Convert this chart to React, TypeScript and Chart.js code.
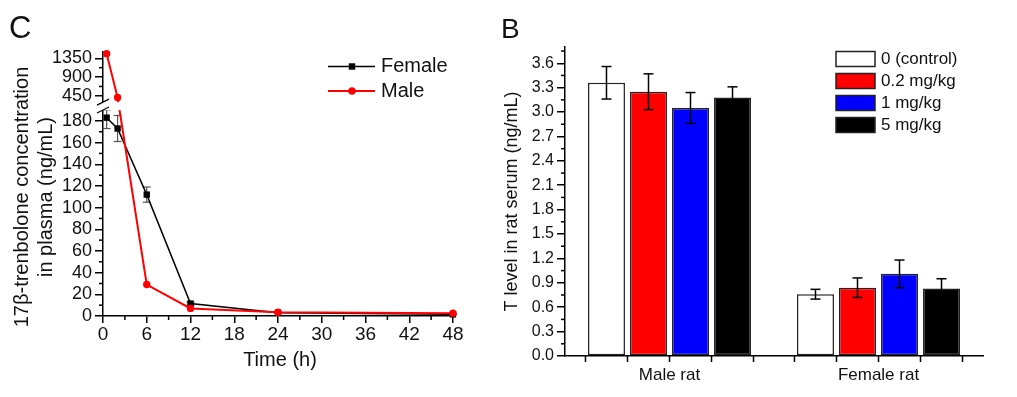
import React, { useEffect, useRef } from 'react';
import { Chart, registerables, LinearScale } from 'chart.js';

const FONT = "'Liberation Sans', Arial, Helvetica, sans-serif";
const INK = '#111111';

// ---------- Panel C: 17β-trenbolone concentration in plasma ----------
const timeHours = [0.5, 2, 6, 12, 24, 48];
const femaleConc = [183, 173, 112, 11.5, 3, 1.5];
const femaleSd = [10, 12, 7, 1.5, 0.5, 0.3];
const maleConc = [1460, 410, 29, 7, 3.5, 2.5];
const timeTicks = [0, 6, 12, 18, 24, 30, 36, 42, 48];
const timeMinorTicks = [3, 9, 15, 21, 27, 33, 39, 45];
const concTicks = [0, 20, 40, 60, 80, 100, 120, 140, 160, 180, 450, 900, 1350];
const concMinorTicks = [10, 30, 50, 70, 90, 110, 130, 150, 170, 675, 1125];
const lowerSegment = [0, 190];
const upperSegment = [300, 1500];
const seriesNamesC = ['Female', 'Male'];

// ---------- Panel B: T level in rat serum ----------
const ratGroups = ['Male rat', 'Female rat'];
const doseLabels = ['0 (control)', '0.2 mg/kg', '1 mg/kg', '5 mg/kg'];
const doseColors = ['#ffffff', '#ff0000', '#0000ff', '#000000'];
const tControl = [3.36, 0.76];
const tControlSd = [0.2, 0.06];
const tDose02 = [3.25, 0.84];
const tDose02Sd = [0.22, 0.12];
const tDose1 = [3.05, 1.01];
const tDose1Sd = [0.19, 0.17];
const tDose5 = [3.18, 0.83];
const tDose5Sd = [0.13, 0.12];
const tLevelTicks = [0, 0.3, 0.6, 0.9, 1.2, 1.5, 1.8, 2.1, 2.4, 2.7, 3.0, 3.3, 3.6];
const tLevelMinorTicks = [0.15, 0.45, 0.75, 1.05, 1.35, 1.65, 1.95, 2.25, 2.55, 2.85, 3.15, 3.45, 3.75];

const doseValues = [tControl, tDose02, tDose1, tDose5];
const doseSds = [tControlSd, tDose02Sd, tDose1Sd, tDose5Sd];

// layout constants for broken axis
const LOWER_SHARE = 0.78;
const GAP_SHARE = 0.03;
const CATEGORY_PCT = 0.804;
const BAR_PCT = 0.88;

class BrokenLinearScale extends LinearScale {
  static id = 'brokenLinear';
  buildTicks() {
    return concTicks.map((v) => ({ value: v }));
  }
  getPixelForValue(value: any) {
    if (value === null || value === undefined || isNaN(value)) return NaN;
    const [l0, l1] = lowerSegment;
    const [u0, u1] = upperSegment;
    let d: number;
    if (value <= l1) d = ((value - l0) / (l1 - l0)) * LOWER_SHARE;
    else if (value >= u0)
      d = LOWER_SHARE + GAP_SHARE + ((value - u0) / (u1 - u0)) * (1 - LOWER_SHARE - GAP_SHARE);
    else d = LOWER_SHARE + ((value - l1) / (u0 - l1)) * GAP_SHARE;
    return (this as any).getPixelForDecimal(d);
  }
  getValueForPixel(pixel: number) {
    const d = (this as any).getDecimalForPixel(pixel);
    const [l0, l1] = lowerSegment;
    const [u0, u1] = upperSegment;
    if (d <= LOWER_SHARE) return l0 + (d / LOWER_SHARE) * (l1 - l0);
    if (d >= LOWER_SHARE + GAP_SHARE)
      return u0 + ((d - LOWER_SHARE - GAP_SHARE) / (1 - LOWER_SHARE - GAP_SHARE)) * (u1 - u0);
    return l1 + ((d - LOWER_SHARE) / GAP_SHARE) * (u0 - l1);
  }
}

Chart.register(...registerables);
Chart.register(BrokenLinearScale as any);
Chart.defaults.font.family = FONT;
Chart.defaults.color = INK;

function line(ctx: CanvasRenderingContext2D, x1: number, y1: number, x2: number, y2: number) {
  ctx.beginPath();
  ctx.moveTo(x1, y1);
  ctx.lineTo(x2, y2);
  ctx.stroke();
}

const panelCPlugin = {
  id: 'panelCDecor',
  beforeDatasetsDraw(chart: any) {
    const ctx = chart.ctx as CanvasRenderingContext2D;
    const xs = chart.scales.x;
    const ys = chart.scales.y;
    ctx.save();
    ctx.strokeStyle = '#555';
    ctx.lineWidth = 1.2;
    timeHours.forEach((t, i) => {
      const x = xs.getPixelForValue(t);
      const yt = ys.getPixelForValue(femaleConc[i] + femaleSd[i]);
      const yb = ys.getPixelForValue(femaleConc[i] - femaleSd[i]);
      line(ctx, x, yt, x, yb);
      line(ctx, x - 4, yt, x + 4, yt);
      line(ctx, x - 4, yb, x + 4, yb);
    });
    ctx.restore();
  },
  afterDraw(chart: any) {
    const ctx = chart.ctx as CanvasRenderingContext2D;
    const area = chart.chartArea;
    const xs = chart.scales.x;
    const ys = chart.scales.y;
    ctx.save();
    // axis break
    const gapTop = ys.getPixelForValue(upperSegment[0]);
    const gapBot = ys.getPixelForValue(lowerSegment[1]);
    ctx.fillStyle = '#ffffff';
    ctx.fillRect(area.left - 2, gapTop, area.right - area.left + 4, gapBot - gapTop);
    ctx.strokeStyle = '#000';
    ctx.lineWidth = 1.2;
    line(ctx, area.left - 6, gapTop + 3, area.left + 6, gapTop - 3);
    line(ctx, area.left - 6, gapBot + 3, area.left + 6, gapBot - 3);
    // minor ticks
    ctx.lineWidth = 1.5;
    concMinorTicks.forEach((v) => {
      const y = ys.getPixelForValue(v);
      line(ctx, area.left - 4, y, area.left, y);
    });
    timeMinorTicks.forEach((v) => {
      const x = xs.getPixelForValue(v);
      line(ctx, x, area.bottom, x, area.bottom + 4);
    });
    // legend
    const ds = chart.data.datasets;
    const rows = [66.5, 91];
    ds.forEach((d: any, i: number) => {
      const y = rows[i];
      ctx.strokeStyle = d.borderColor;
      ctx.fillStyle = d.borderColor;
      ctx.lineWidth = d.borderWidth;
      line(ctx, 328, y, 375, y);
      if (d.pointStyle === 'rect') {
        ctx.fillRect(352 - 3.2, y - 3.2, 6.4, 6.4);
      } else {
        ctx.beginPath();
        ctx.arc(352, y, 3.7, 0, Math.PI * 2);
        ctx.fill();
      }
      ctx.fillStyle = INK;
      ctx.font = `20px ${FONT}`;
      ctx.textAlign = 'left';
      ctx.textBaseline = 'middle';
      ctx.fillText(seriesNamesC[i], 381, y);
    });
    // titles
    ctx.fillStyle = INK;
    ctx.font = `20px ${FONT}`;
    ctx.textAlign = 'center';
    ctx.textBaseline = 'middle';
    ctx.fillText('Time (h)', (area.left + area.right) / 2 + 2, 360);
    ctx.save();
    ctx.translate(22, 197);
    ctx.rotate(-Math.PI / 2);
    ctx.fillText('17β-trenbolone concentration', 0, 0);
    ctx.restore();
    ctx.save();
    ctx.translate(46, 197);
    ctx.rotate(-Math.PI / 2);
    ctx.fillText('in plasma (ng/mL)', 0, 0);
    ctx.restore();
    // panel letter
    ctx.font = `31px ${FONT}`;
    ctx.textAlign = 'left';
    ctx.textBaseline = 'alphabetic';
    ctx.fillText('C', 9, 38);
    ctx.restore();
  },
};

const panelBPlugin = {
  id: 'panelBDecor',
  afterDatasetsDraw(chart: any) {
    const ctx = chart.ctx as CanvasRenderingContext2D;
    const ys = chart.scales.y;
    ctx.save();
    ctx.strokeStyle = '#000';
    ctx.lineWidth = 1.5;
    doseValues.forEach((vals, d) => {
      const meta = chart.getDatasetMeta(d);
      vals.forEach((v, i) => {
        const bar = meta.data[i];
        const x = bar.x;
        const yt = ys.getPixelForValue(v + doseSds[d][i]);
        const yb = ys.getPixelForValue(v - doseSds[d][i]);
        line(ctx, x, yt, x, yb);
        line(ctx, x - 5, yt, x + 5, yt);
        line(ctx, x - 5, yb, x + 5, yb);
      });
    });
    ctx.restore();
  },
  afterDraw(chart: any) {
    const ctx = chart.ctx as CanvasRenderingContext2D;
    const area = chart.chartArea;
    const xs = chart.scales.x;
    const ys = chart.scales.y;
    ctx.save();
    ctx.strokeStyle = '#000';
    ctx.lineWidth = 1.5;
    // x ticks at bar slot boundaries
    const catW = (xs.right - xs.left) / ratGroups.length;
    ratGroups.forEach((_, i) => {
      const c = xs.getPixelForValue(i);
      const w = catW * CATEGORY_PCT;
      const n = doseLabels.length;
      for (let k = 0; k <= n; k++) {
        const x = c - w / 2 + (k * w) / n;
        line(ctx, x, area.bottom, x, area.bottom + 6);
      }
    });
    // y minor ticks
    tLevelMinorTicks.forEach((v) => {
      const y = ys.getPixelForValue(v);
      line(ctx, area.left - 4, y, area.left, y);
    });
    // legend
    const rows = [59, 81, 103, 125];
    doseLabels.forEach((lab, i) => {
      const y = rows[i];
      ctx.fillStyle = doseColors[i];
      ctx.fillRect(346, y - 7.5, 39, 15);
      ctx.strokeStyle = '#222';
      ctx.lineWidth = 1.5;
      ctx.strokeRect(346, y - 7.5, 39, 15);
      ctx.fillStyle = INK;
      ctx.font = `17px ${FONT}`;
      ctx.textAlign = 'left';
      ctx.textBaseline = 'middle';
      ctx.fillText(lab, 391, y);
    });
    // y title
    ctx.fillStyle = INK;
    ctx.font = `18px ${FONT}`;
    ctx.textAlign = 'center';
    ctx.textBaseline = 'middle';
    ctx.save();
    ctx.translate(22, (area.top + area.bottom) / 2);
    ctx.rotate(-Math.PI / 2);
    ctx.fillText('T level in rat serum (ng/mL)', 0, 0);
    ctx.restore();
    // panel letter
    ctx.font = `28px ${FONT}`;
    ctx.textAlign = 'left';
    ctx.textBaseline = 'alphabetic';
    ctx.fillText('B', 11, 38);
    ctx.restore();
  },
};

export default function App() {
  const cRef = useRef<HTMLCanvasElement>(null);
  const bRef = useRef<HTMLCanvasElement>(null);

  useEffect(() => {
    const chartC = new Chart(cRef.current as HTMLCanvasElement, {
      type: 'line',
      data: {
        datasets: [
          {
            label: seriesNamesC[0],
            data: timeHours.map((t, i) => ({ x: t, y: femaleConc[i] })),
            borderColor: '#000000',
            backgroundColor: '#000000',
            borderWidth: 1.5,
            pointStyle: 'rect',
            pointRadius: 4.5,
            pointBorderWidth: 0,
            order: 1,
            clip: false,
          },
          {
            label: seriesNamesC[1],
            data: timeHours.map((t, i) => ({ x: t, y: maleConc[i] })),
            borderColor: '#ff0000',
            backgroundColor: '#ff0000',
            borderWidth: 2,
            pointStyle: 'circle',
            pointRadius: 3.7,
            pointBorderWidth: 0,
            order: 0,
            clip: false,
          },
        ],
      } as any,
      options: {
        animation: false,
        responsive: false,
        events: [],
        layout: { padding: { top: 52, right: 37, left: 0, bottom: 0 } },
        plugins: { legend: { display: false }, tooltip: { enabled: false } },
        scales: {
          x: {
            type: 'linear',
            min: 0,
            max: 48,
            afterFit: (s: any) => {
              s.height = 81;
            },
            afterBuildTicks: (s: any) => {
              s.ticks = timeTicks.map((v) => ({ value: v }));
            },
            ticks: {
              autoSkip: false,
              maxRotation: 0,
              padding: 0,
              color: INK,
              font: { size: 19, family: FONT },
              callback: (v: any) => String(v),
            },
            grid: { display: true, drawOnChartArea: false, drawTicks: true, tickLength: 7, color: '#000', lineWidth: 1.5 },
            border: { display: true, color: '#000', width: 1.5 },
          },
          y: {
            type: 'brokenLinear',
            min: lowerSegment[0],
            max: upperSegment[1],
            afterFit: (s: any) => {
              s.width = 103;
            },
            ticks: {
              autoSkip: false,
              padding: 3,
              color: INK,
              font: { size: 18, family: FONT },
              callback: (v: any) => String(v),
            },
            grid: { display: true, drawOnChartArea: false, drawTicks: true, tickLength: 8, color: '#000', lineWidth: 1.5 },
            border: { display: true, color: '#000', width: 1.5 },
          },
        },
      } as any,
      plugins: [panelCPlugin],
    } as any);

    const chartB = new Chart(bRef.current as HTMLCanvasElement, {
      type: 'bar',
      data: {
        labels: ratGroups,
        datasets: doseValues.map((vals, i) => ({
          label: doseLabels[i],
          data: vals,
          backgroundColor: doseColors[i],
          borderColor: '#222',
          borderWidth: 1.5,
          borderSkipped: false,
          categoryPercentage: CATEGORY_PCT,
          barPercentage: BAR_PCT,
        })),
      },
      options: {
        animation: false,
        responsive: false,
        events: [],
        layout: { padding: { top: 47, right: 34, left: 0, bottom: 0 } },
        plugins: { legend: { display: false }, tooltip: { enabled: false } },
        scales: {
          x: {
            type: 'category',
            afterFit: (s: any) => {
              s.height = 41;
            },
            grid: { display: false },
            border: { display: true, color: '#000', width: 1.5 },
            ticks: { color: INK, font: { size: 17, family: FONT }, padding: 1, maxRotation: 0 },
          },
          y: {
            type: 'linear',
            min: 0,
            max: 3.8,
            afterFit: (s: any) => {
              s.width = 75;
            },
            afterBuildTicks: (s: any) => {
              s.ticks = tLevelTicks.map((v) => ({ value: v }));
            },
            ticks: {
              autoSkip: false,
              padding: 3,
              color: INK,
              font: { size: 16, family: FONT },
              callback: (v: any) => Number(v).toFixed(1),
            },
            grid: { display: true, drawOnChartArea: false, drawTicks: true, tickLength: 8, color: '#000', lineWidth: 1.5 },
            border: { display: true, color: '#000', width: 1.5 },
          },
        },
      } as any,
      plugins: [panelBPlugin],
    } as any);

    return () => {
      chartC.destroy();
      chartB.destroy();
    };
  }, []);

  return (
    <div style={{ position: 'absolute', left: 0, top: 0, width: 1017, height: 397, background: '#ffffff' }}>
      <canvas ref={cRef} width={490} height={397} style={{ position: 'absolute', left: 0, top: 0 }} />
      <canvas ref={bRef} width={527} height={397} style={{ position: 'absolute', left: 490, top: 0 }} />
    </div>
  );
}
